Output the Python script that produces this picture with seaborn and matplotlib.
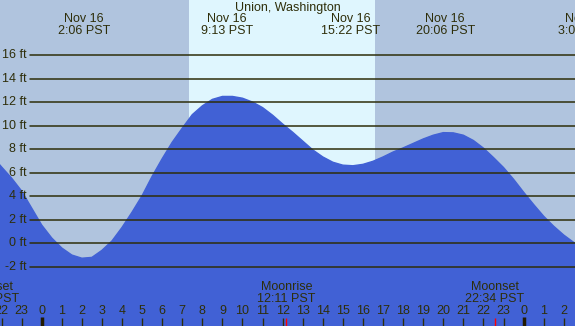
import numpy as np
import matplotlib
matplotlib.use("Agg")
import matplotlib.pyplot as plt
import seaborn as sns

sns.set_theme(style="white")
plt.rcParams['font.family'] = ['Liberation Sans', 'DejaVu Sans']

station = "Union, Washington"

# hours since midnight Nov 16 (PST) and tide height in ft
hours = [-2.5, -2.0, -1.5, -1.0, -0.5, 0.0, 0.5, 1.0, 1.5, 2.0,
         2.5, 3.0, 3.5, 4.0, 4.5, 5.0, 5.5, 6.0, 6.5, 7.0,
         7.5, 8.0, 8.5, 9.0, 9.5, 10.0, 10.5, 11.0, 11.5, 12.0,
         12.5, 13.0, 13.5, 14.0, 14.5, 15.0, 15.5, 16.0, 16.5, 17.0,
         17.5, 18.0, 18.5, 19.0, 19.5, 20.0, 20.5, 21.0, 21.5, 22.0,
         22.5, 23.0, 23.5, 24.0, 24.5, 25.0, 25.5, 26.0, 26.5, 27.0]
heights = [7.5, 6.5, 5.55, 4.45, 3.0, 1.55, 0.45, -0.4, -1.0, -1.27,
           -1.2, -0.6, 0.2, 1.35, 2.65, 4.05, 5.7, 7.2, 8.6, 9.8,
           10.95, 11.7, 12.25, 12.5, 12.5, 12.35, 12.02, 11.55, 10.9, 10.15,
           9.45, 8.7, 7.95, 7.35, 6.9, 6.65, 6.6, 6.72, 6.98, 7.35,
           7.77, 8.12, 8.5, 8.88, 9.2, 9.42, 9.4, 9.2, 8.75, 8.1,
           7.3, 6.45, 5.45, 4.35, 3.3, 2.3, 1.45, 0.7, 0.07, -0.4]

# high / low tide labels at top
tide_times = [2.1, 9.22, 15.37, 20.1, 27.03]
tide_dates = ["Nov 16", "Nov 16", "Nov 16", "Nov 16", "Nov 17"]
tide_labels = ["2:06 PST", "9:13 PST", "15:22 PST", "20:06 PST", "3:02 PST"]

# moon events at bottom
moon_times = [-2.62, 12.18, 22.57]
moon_names = ["Moonset", "Moonrise", "Moonset"]
moon_labels = ["21:23 PST", "12:11 PST", "22:34 PST"]

sunrise, sunset = 7.335, 16.6
ft_levels = [-2, 0, 2, 4, 6, 8, 10, 12, 14, 16]
hour_ticks = list(range(-2, 27))

night = "#b0c4de"
day = "#dff6fe"
water = "#4161d5"
ink = "#2e2e0a"

fig = plt.figure(figsize=(5.75, 3.26), dpi=100, facecolor=night)
ax = fig.add_axes([0, 0, 1, 1])
ax.set_facecolor(night)
ax.set_xlim(-2.077, 26.56)
ax.set_ylim(-7.04, 20.71)
for s in ax.spines.values():
    s.set_visible(False)
ax.set_xticks([])
ax.set_yticks([])

ax.axvspan(sunrise, sunset, color=day, lw=0, zorder=0)

ax.fill_between(hours, heights, -7.04, color=water, lw=0, zorder=1)
sns.lineplot(x=hours, y=heights, color=water, lw=1, ax=ax, zorder=2)

xt = ax.get_xaxis_transform()
yt = ax.get_yaxis_transform()

for lv in ft_levels:
    ax.axhline(lv, xmin=29.5 / 575, xmax=1, color=ink, lw=1.1, zorder=3)
    ax.text(27 / 575, lv, f"{lv} ft", transform=yt, ha="right", va="center",
            fontsize=9, color=ink, zorder=4)

ax.text(0.5, 1 - 7.5 / 326, station, transform=ax.transAxes, ha="center",
        va="center", fontsize=9, color=ink)
for t, d, lab in zip(tide_times, tide_dates, tide_labels):
    ax.text(t, 1 - 19 / 326, d, transform=xt, ha="center", va="center",
            fontsize=9, color=ink, clip_on=False)
    ax.text(t, 1 - 31.5 / 326, lab, transform=xt, ha="center", va="center",
            fontsize=9, color=ink, clip_on=False)

for t, n, lab in zip(moon_times, moon_names, moon_labels):
    ax.text(t, 1 - 287.5 / 326, n, transform=xt, ha="center", va="center",
            fontsize=9, color=ink)
    ax.text(t, 1 - 299.5 / 326, lab, transform=xt, ha="center", va="center",
            fontsize=9, color=ink)
    ax.vlines(t, 0, 8 / 326, transform=xt, color="red", lw=1, zorder=5)

for h in hour_ticks:
    ax.text(h, 1 - 311.5 / 326, str(h % 24), transform=xt, ha="center",
            va="center", fontsize=9, color=ink)
    if h % 24 == 0:
        ax.vlines(h, 0, 9 / 326, transform=xt, color="#221a00", lw=2.5, zorder=4)
    else:
        ax.vlines(h, 0, 8 / 326, transform=xt, color=ink, lw=1, zorder=4)

fig.savefig("out.png", dpi=100, facecolor=night)
